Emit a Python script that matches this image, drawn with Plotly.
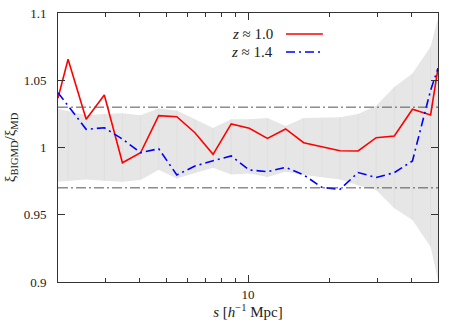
import plotly.graph_objects as go

# separation s [h^-1 Mpc] (log-spaced bins, ends at the axis limits)
s = [2.0, 2.178, 2.539, 2.961, 3.452, 4.025, 4.693, 5.472, 6.38, 7.439, 8.674,
     10.11, 11.79, 13.75, 16.03, 18.69, 21.79, 25.41, 29.62, 34.54, 40.27, 46.96, 50.0]

ratio_z10 = [1.0367, 1.0656, 1.021, 1.039, 0.9887, 0.9961, 1.0237, 1.0229, 1.011, 0.9949, 1.0175,
             1.0143, 1.0068, 1.0138, 1.0036, 1.0006, 0.9976, 0.9974, 1.0073, 1.0086, 1.0284, 1.0242, 1.0589]

ratio_z14 = [1.0408, 1.031, 1.0135, 1.0147, 1.0063, 0.9961, 0.9991, 0.9796, 0.9862, 0.9902, 0.9937,
             0.9833, 0.982, 0.9853, 0.9796, 0.9704, 0.9689, 0.9814, 0.9777, 0.9813, 0.99, 1.0425, 1.0589]

band_hi = [1.0288, 1.027, 1.024, 1.025, 1.0255, 1.024, 1.029, 1.0275, 1.021, 1.0145, 1.021,
           1.021, 1.022, 1.016, 1.022, 1.022, 1.0225, 1.025, 1.031, 1.045, 1.055, 1.075, 1.096]

band_lo = [0.9746, 0.9753, 0.9763, 0.9753, 0.9746, 0.9758, 0.9835, 0.977, 0.981, 0.985, 0.980,
           0.9807, 0.978, 0.982, 0.9796, 0.978, 0.9763, 0.972, 0.9684, 0.9548, 0.9461, 0.9262, 0.9015]

ref_levels = [1.03, 0.97]
legend_labels = ["<i>z</i> ≈ 1.0", "<i>z</i> ≈ 1.4"]

SERIF = "Liberation Serif, DejaVu Serif, serif"

fig = go.Figure()

# shaded scatter band
fig.add_trace(go.Scatter(x=s, y=band_hi, mode="lines", line=dict(width=0),
                         hoverinfo="skip", showlegend=False))
fig.add_trace(go.Scatter(x=s, y=band_lo, mode="lines", line=dict(width=0),
                         fill="tonexty", fillcolor="#e6e6e6", hoverinfo="skip", showlegend=False))

# faint vertical bars inside the band
mid = [(h + l) / 2 for h, l in zip(band_hi, band_lo)]
fig.add_trace(go.Scatter(
    x=s[1:-1], y=mid[1:-1], mode="markers", marker=dict(size=1, opacity=0),
    error_y=dict(type="data", symmetric=False,
                 array=[h - m for h, m in zip(band_hi[1:-1], mid[1:-1])],
                 arrayminus=[m - l for m, l in zip(mid[1:-1], band_lo[1:-1])],
                 color="#dcdcdc", thickness=0.6, width=0),
    hoverinfo="skip", showlegend=False))

for lvl in ref_levels:
    fig.add_hline(y=lvl, line=dict(color="#555555", width=1, dash="10px,3px,2px,3px"))

fig.add_trace(go.Scatter(x=s, y=ratio_z10, mode="lines", name="z ≈ 1.0",
                         line=dict(color="#ff0000", width=1.6), showlegend=False))
fig.add_trace(go.Scatter(x=s, y=ratio_z14, mode="lines", name="z ≈ 1.4",
                         line=dict(color="#0000ff", width=1.6, dash="9px,4px,2px,4px"),
                         showlegend=False))

# hand-made legend: text on the left, sample line on the right
leg_y = [0.922, 0.855]
leg_styles = [dict(color="#ff0000", width=1.6), dict(color="#0000ff", width=1.6, dash="9px,4px,2px,4px")]
for lab, yy, st in zip(legend_labels, leg_y, leg_styles):
    fig.add_annotation(x=0.571, y=yy, xref="paper", yref="paper", text=lab, showarrow=False,
                       xanchor="right", yanchor="middle", font=dict(family=SERIF, size=15, color="#222"))
    fig.add_shape(type="line", xref="paper", yref="paper", x0=0.6, x1=0.697, y0=yy, y1=yy, line=st)

fig.update_xaxes(type="log", range=[0.30103, 1.69897], automargin=False,
                 tickvals=[10], ticktext=["10"], ticks="inside", ticklen=7, tickcolor="#333",
                 minor=dict(tickvals=[3, 4, 5, 6, 7, 8, 9, 20, 30, 40], ticks="inside",
                            ticklen=4, tickcolor="#333", showgrid=False),
                 showline=True, linecolor="#333", linewidth=1, mirror="ticks",
                 showgrid=False, zeroline=False,
                 title=dict(text="<i>s</i> [<i>h</i><sup>−1</sup> Mpc]", standoff=0,
                            font=dict(family=SERIF, size=15, color="#222")),
                 tickfont=dict(family=SERIF, size=13, color="#222"))
fig.update_yaxes(range=[0.9, 1.1], automargin=False, tickvals=[0.9, 0.95, 1.0, 1.05, 1.1],
                 ticktext=["0.9", "0.95", "1", "1.05", "1.1"],
                 ticks="inside", ticklen=7, tickcolor="#333", ticklabelstandoff=8,
                 showline=True, linecolor="#333", linewidth=1, mirror="ticks",
                 showgrid=False, zeroline=False,
                 title=dict(text="ξ<sub>BIGMD</sub>/ξ<sub>MD</sub>", standoff=4,
                            font=dict(family=SERIF, size=15, color="#222")),
                 tickfont=dict(family=SERIF, size=13, color="#222"))

fig.update_layout(width=458, height=322, margin=dict(l=58, r=20, t=13, b=40),
                  font=dict(family=SERIF),
                  plot_bgcolor="white", paper_bgcolor="white", showlegend=False)

# drop the default page margin so the figure sits at the window's corner
fig.write_html("out.html", config={"displayModeBar": False},
               post_script="document.body.style.margin='0';")
